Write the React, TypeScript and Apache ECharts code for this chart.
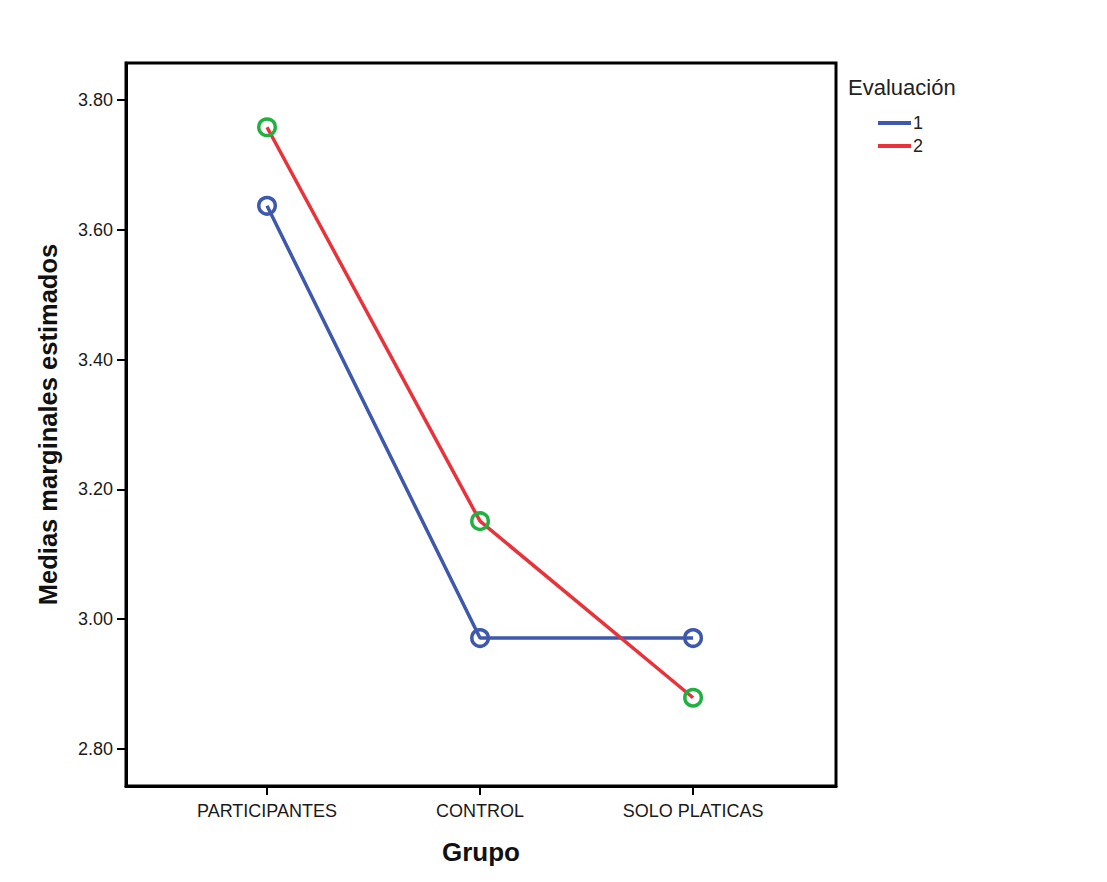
import React, { useEffect, useRef } from "react";
import * as echarts from "echarts";

const categories = ["PARTICIPANTES", "CONTROL", "SOLO PLATICAS"];
const serie1 = [3.637, 2.971, 2.971];
const serie2 = [3.758, 3.151, 2.879];
const yTicks = [2.8, 3.0, 3.2, 3.4, 3.6, 3.8];
const seriesNames = ["1", "2"];

const FONT = "'Liberation Sans', Arial, sans-serif";

export default function App() {
  const ref = useRef<HTMLDivElement>(null);
  useEffect(() => {
    document.body.style.margin = "0";
    const chart = echarts.init(ref.current!, null, { renderer: "svg" });
    const toPts = (arr: number[]) => arr.map((v, i) => [i, v]);
    chart.setOption({
      animation: false,
      backgroundColor: "#fff",
      textStyle: { fontFamily: FONT },
      title: {
        text: "Evaluación",
        left: 848,
        top: 76,
        padding: 0,
        textStyle: { fontSize: 22, fontWeight: "normal", color: "#222", fontFamily: FONT },
      },
      legend: {
        orient: "vertical",
        left: 878,
        top: 114,
        padding: 0,
        itemGap: 5,
        itemWidth: 33,
        itemHeight: 4,
        textStyle: { fontSize: 18, color: "#222", fontFamily: FONT, padding: [0, 0, 0, -3] },
        data: [
          { name: seriesNames[0], icon: "rect", itemStyle: { color: "#3e58ac", borderWidth: 0 } },
          { name: seriesNames[1], icon: "rect", itemStyle: { color: "#e8333b", borderWidth: 0 } },
        ],
      },
      grid: {
        left: 126,
        top: 63,
        width: 710,
        height: 723,
        show: true,
        borderColor: "#000",
        borderWidth: 3,
        backgroundColor: "transparent",
      },
      xAxis: {
        type: "value",
        min: -0.662,
        max: 2.671,
        splitLine: { show: false },
        axisLine: { show: true, onZero: false, lineStyle: { color: "#000", width: 3 } },
        axisTick: { show: true, customValues: [0, 1, 2], length: 9, lineStyle: { color: "#000", width: 2 } },
        axisLabel: {
          customValues: [0, 1, 2],
          formatter: (v: number) => categories[Math.round(v)] ?? "",
          fontSize: 18,
          color: "#1a1a1a",
          margin: 16,
          fontFamily: FONT,
        },
        name: "Grupo",
        nameLocation: "middle",
        nameGap: 66,
        nameTextStyle: { fontSize: 26, fontWeight: "bold", color: "#111", fontFamily: FONT, verticalAlign: "middle" },
      },
      yAxis: {
        type: "value",
        min: 2.743,
        max: 3.857,
        splitLine: { show: false },
        axisLine: { show: true, onZero: false, lineStyle: { color: "#000", width: 3 } },
        axisTick: { show: true, customValues: yTicks, length: 9, lineStyle: { color: "#000", width: 2 } },
        axisLabel: {
          customValues: yTicks,
          formatter: (v: number) => v.toFixed(2),
          fontSize: 18,
          color: "#1a1a1a",
          margin: 13,
          fontFamily: FONT,
        },
        name: "Medias marginales estimados",
        nameLocation: "middle",
        nameGap: 78,
        nameRotate: 90,
        nameTextStyle: { fontSize: 25.5, fontWeight: "bold", color: "#111", fontFamily: FONT, verticalAlign: "middle" },
      },
      series: [
        {
          name: seriesNames[0],
          type: "line",
          data: toPts(serie1),
          symbol: "circle",
          symbolSize: 16.5,
          lineStyle: { color: "#3e58ac", width: 3.5 },
          itemStyle: { color: "rgba(0,0,0,0)", borderColor: "#3e58ac", borderWidth: 3.5 },
          z: 2,
        },
        {
          name: seriesNames[1],
          type: "line",
          data: toPts(serie2),
          symbol: "circle",
          symbolSize: 16.5,
          lineStyle: { color: "#e8333b", width: 3.5 },
          itemStyle: { color: "rgba(0,0,0,0)", borderColor: "#22b040", borderWidth: 3.5 },
          z: 3,
        },
      ],
    });
    return () => chart.dispose();
  }, []);
  return <div ref={ref} style={{ width: 1107, height: 882 }} />;
}
